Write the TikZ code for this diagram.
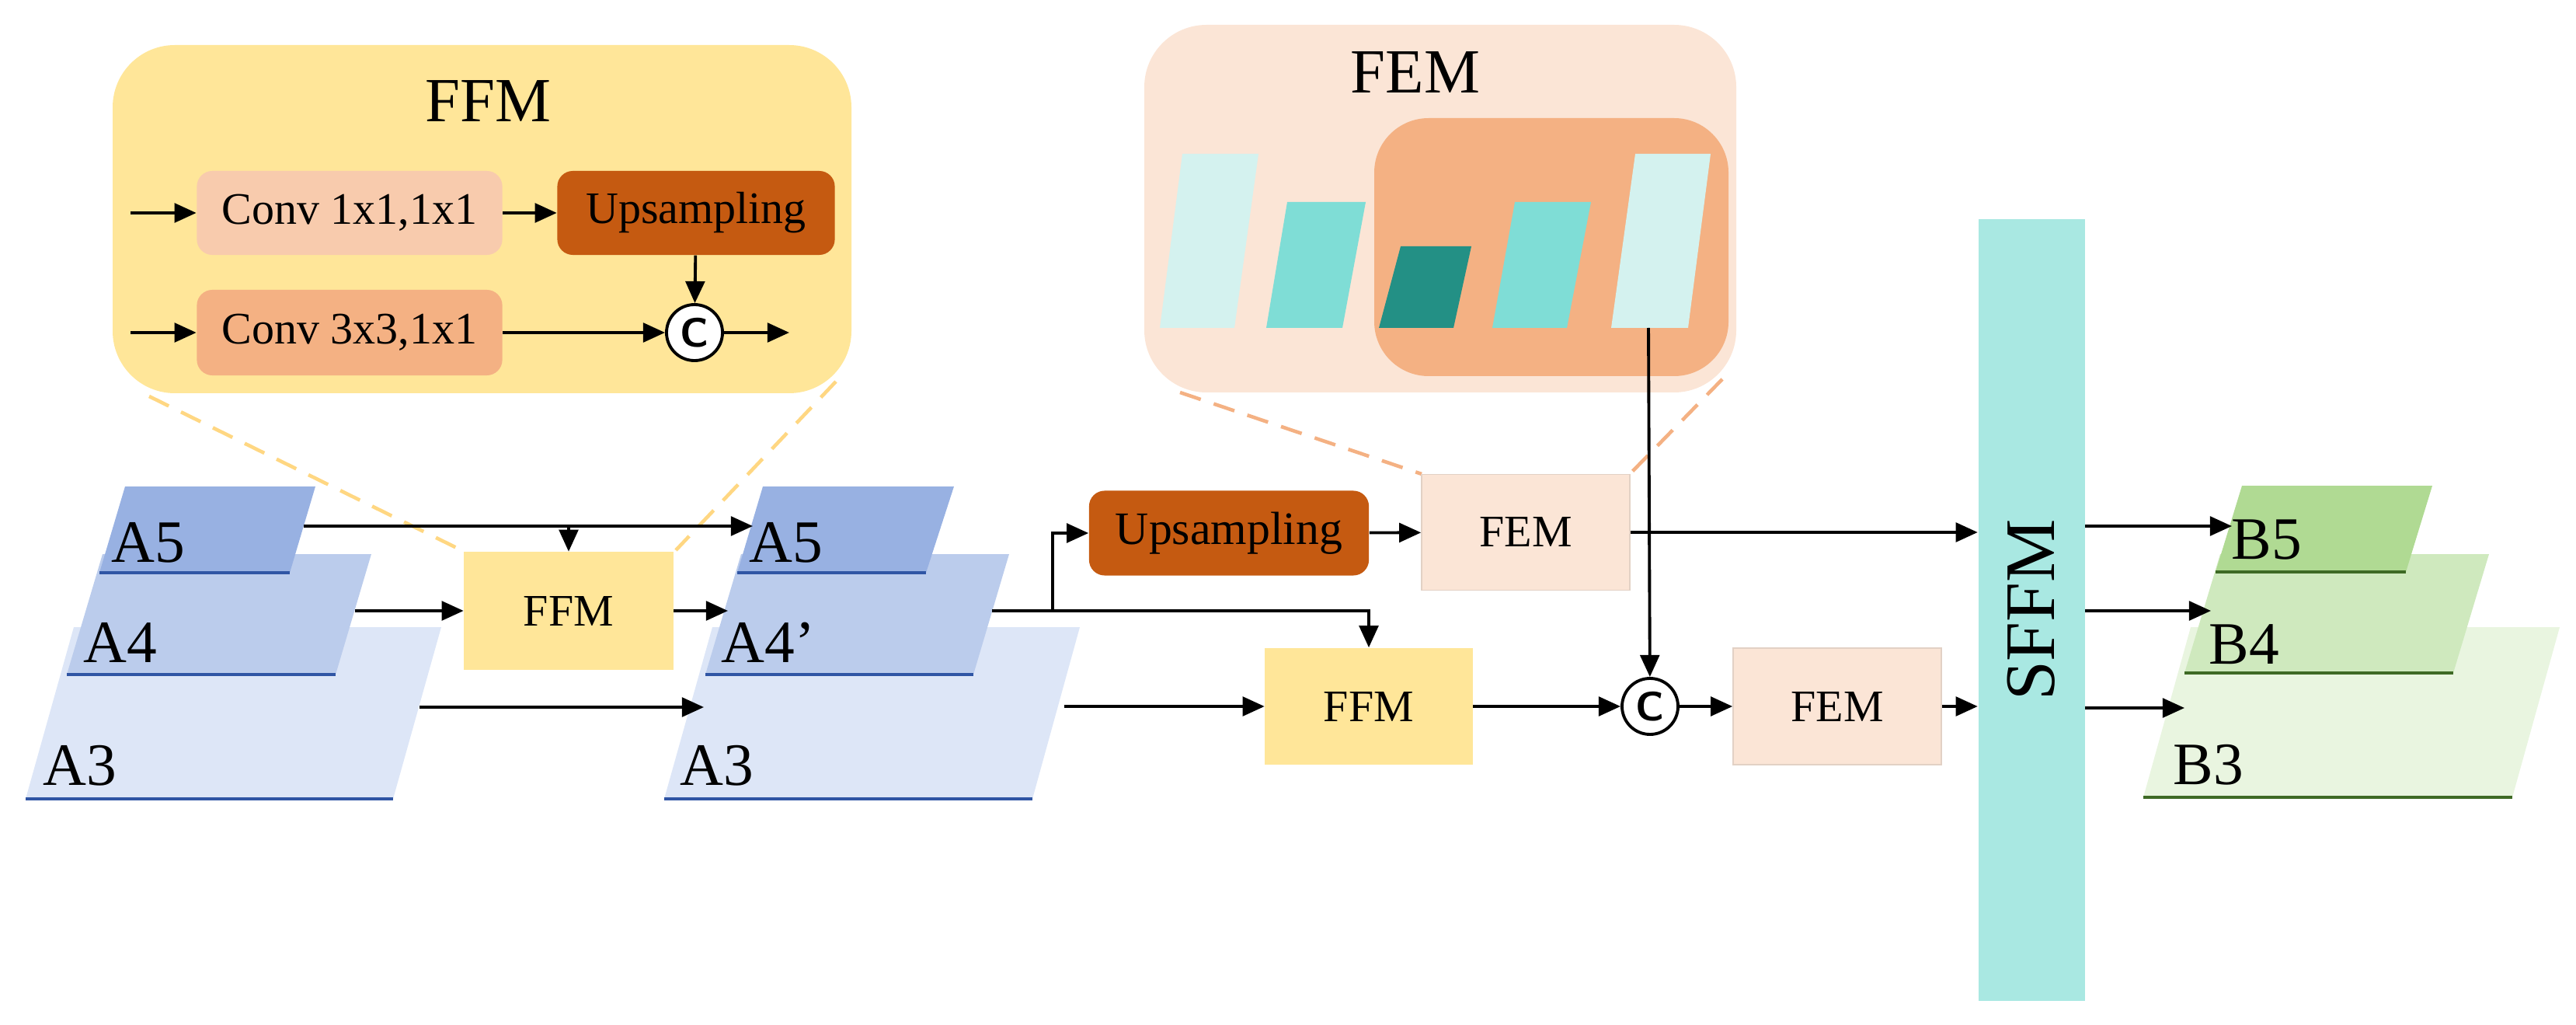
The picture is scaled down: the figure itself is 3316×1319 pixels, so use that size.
\documentclass[tikz,border=0pt]{standalone}
\usepackage{fontspec}
\setmainfont{Liberation Serif}
\usetikzlibrary{arrows.meta}
\definecolor{ffmY}{HTML}{FFE699}
\definecolor{femP}{HTML}{FBE5D6}
\definecolor{convA}{HTML}{F8CBAD}
\definecolor{convB}{HTML}{F4B183}
\definecolor{upO}{HTML}{C55A11}
\definecolor{aFive}{HTML}{98B1E2}
\definecolor{aFour}{HTML}{BBCCEC}
\definecolor{aThree}{HTML}{DDE6F7}
\definecolor{aEdge}{HTML}{2F55A4}
\definecolor{bFive}{HTML}{B0DA93}
\definecolor{bFour}{HTML}{CFE9BE}
\definecolor{bThree}{HTML}{E9F5E0}
\definecolor{bEdge}{HTML}{3E6A25}
\definecolor{barL}{HTML}{D4F2EF}
\definecolor{barM}{HTML}{7FDDD6}
\definecolor{barD}{HTML}{239085}
\definecolor{sffm}{HTML}{A9E8E2}
\begin{document}
\begin{tikzpicture}[x=0.01cm,y=-0.01cm,
  arr/.style={line width=1.1pt,-{Triangle[length=8pt,width=7pt]}},
  ln/.style={line width=1.1pt},
  box/.style={rectangle,inner sep=0pt,font=\fontsize{16.5}{18}\selectfont},
  lbl/.style={anchor=base west,inner sep=0pt,font=\fontsize{22}{24}\selectfont},
  cc/.style={circle,draw,line width=1.1pt,fill=white,minimum size=0.72cm,inner sep=0pt,font=\sffamily\bfseries\fontsize{15}{15}\selectfont},
  dsh/.style={line width=1.3pt,dash pattern=on 8pt off 5pt}]
\useasboundingbox (0,0) rectangle (3316,1319);
% ---------- FFM zoom panel
\fill[ffmY,rounded corners=0.8cm] (145,58) rectangle (1096,506);
\node[font=\fontsize{23}{24}\selectfont] (ffmT) at (628,130) {FFM};
\node[box,fill=convA,rounded corners=0.2cm,minimum width=3.93cm,minimum height=1.08cm] (c1) at (450,274) {Conv 1x1,1x1};
\node[box,fill=upO,rounded corners=0.2cm,minimum width=3.57cm,minimum height=1.08cm] (up1) at (896,274) {Upsampling};
\node[box,fill=convB,rounded corners=0.2cm,minimum width=3.93cm,minimum height=1.10cm] (c3) at (450,428) {Conv 3x3,1x1};
\node[cc] (cA) at (894,428) {C};
\coordinate (in1) at (168,274); \coordinate (in2) at (168,428); \coordinate (outA) at (1016,428);
\draw[arr] (in1) -- (c1);
\draw[arr] (in2) -- (c3);
\draw[arr] (c1) -- (up1);
\draw[arr] (up1) -- (cA);
\draw[arr] (c3) -- (cA);
\draw[arr] (cA) -- (outA);
% ---------- FEM zoom panel
\fill[femP,rounded corners=0.8cm] (1473,32) rectangle (2235,505);
\node[font=\fontsize{23}{24}\selectfont] (femT) at (1822,93) {FEM};
\fill[convB,rounded corners=0.7cm] (1769,152) rectangle (2225,484);
\fill[barL] (1493,422) -- (1589,422) -- (1620,198) -- (1522,198) -- cycle;
\fill[barM] (1630,422) -- (1728,422) -- (1758,260) -- (1657,260) -- cycle;
\fill[barD] (1775,422) -- (1871,422) -- (1894,317) -- (1803,317) -- cycle;
\fill[barM] (1921,422) -- (2017,422) -- (2048,260) -- (1950,260) -- cycle;
\fill[barL] (2074,422) -- (2173,422) -- (2202,198) -- (2105,198) -- cycle;
\coordinate (barOut) at (2122,422);
% ---------- dashed zoom lines
\draw[dsh,ffmY!85!orange] (192,510) -- (598,710);
\draw[dsh,ffmY!85!orange] (1076,491) -- (870,708);
\draw[dsh,convB] (1519,505) -- (1830,610);
\draw[dsh,convB] (2217,488) -- (2098,610);
% ---------- left feature maps
\fill[aThree] (33,1028) -- (506,1028) -- (568,807) -- (95,807) -- cycle;
\draw[aEdge,line width=1.4pt] (33,1028) -- (506,1028);
\fill[aFour] (86,868) -- (432,868) -- (478,713) -- (132,713) -- cycle;
\draw[aEdge,line width=1.4pt] (86,868) -- (432,868);
\fill[aFive] (128,737) -- (373,737) -- (406,626) -- (161,626) -- cycle;
\draw[aEdge,line width=1.4pt] (128,737) -- (373,737);
\node[lbl] (a5) at (143,723) {A5};
\node[lbl] (a4) at (107,852) {A4};
\node[lbl] (a3) at (55,1010) {A3};
% middle feature maps
\fill[aThree] (855,1028) -- (1329,1028) -- (1390,807) -- (917,807) -- cycle;
\draw[aEdge,line width=1.4pt] (855,1028) -- (1329,1028);
\fill[aFour] (908,868) -- (1253,868) -- (1299,713) -- (954,713) -- cycle;
\draw[aEdge,line width=1.4pt] (908,868) -- (1253,868);
\fill[aFive] (949,737) -- (1192,737) -- (1228,626) -- (982,626) -- cycle;
\draw[aEdge,line width=1.4pt] (949,737) -- (1192,737);
\node[lbl] (m5) at (964,723) {A5};
\node[lbl] (m4) at (928,852) {A4’};
\node[lbl] (m3) at (875,1010) {A3};
% right feature maps
\fill[bThree] (2759,1026) -- (3234,1026) -- (3295,807) -- (2820,807) -- cycle;
\draw[bEdge,line width=1.4pt] (2759,1026) -- (3234,1026);
\fill[bFour] (2812,866) -- (3158,866) -- (3204,713) -- (2858,713) -- cycle;
\draw[bEdge,line width=1.4pt] (2812,866) -- (3158,866);
\fill[bFive] (2852,736) -- (3097,736) -- (3131,625) -- (2886,625) -- cycle;
\draw[bEdge,line width=1.4pt] (2852,736) -- (3097,736);
\node[lbl] (b5) at (2872,719) {B5};
\node[lbl] (b4) at (2843,854) {B4};
\node[lbl] (b3) at (2797,1009) {B3};
% ---------- main nodes
\node[box,fill=ffmY,minimum width=2.69cm,minimum height=1.51cm] (ffm1) at (732,786) {FFM};
\node[box,fill=ffmY,minimum width=2.67cm,minimum height=1.50cm] (ffm2) at (1762,909) {FFM};
\node[box,fill=upO,rounded corners=0.2cm,minimum width=3.60cm,minimum height=1.09cm,font=\fontsize{17}{18}\selectfont] (up2) at (1582,686) {Upsampling};
\node[box,fill=femP,draw=femP!80!gray,minimum width=2.68cm,minimum height=1.49cm] (fem1) at (1964,685) {FEM};
\node[box,fill=femP,draw=femP!80!gray,minimum width=2.68cm,minimum height=1.50cm] (fem2) at (2365,909) {FEM};
\node[cc] (cB) at (2124,909) {C};
\node[box,fill=sffm,minimum width=1.37cm,minimum height=10.06cm] (sf) at (2615,785) {};
\node[rotate=90,font=\fontsize{26}{28}\selectfont] at (sf) {SFFM};
% ---------- connectors
\coordinate (a5o) at (391,677); \coordinate (m5i) at (969,677); \coordinate (dropA) at (732,677);
\draw[arr] (a5o) -- (m5i);
\draw[arr] (dropA) -- (ffm1.north);
\coordinate (a4o) at (457,786); \draw[arr] (a4o) -- (ffm1);
\coordinate (m4i) at (937,786); \draw[arr] (ffm1) -- (m4i);
\coordinate (a3o) at (540,910); \coordinate (m3i) at (906,910); \draw[arr] (a3o) -- (m3i);
\coordinate (m4o) at (1277,786); \coordinate (br) at (1355,786);
\draw[ln] (m4o) -- (br);
\draw[arr] (br) |- (up2.west);
\draw[arr] (br) -| (ffm2.north);
\coordinate (m3o) at (1370,909); \draw[arr] (m3o) -- (ffm2);
\draw[arr] (up2) -- (fem1);
\draw[arr] (fem1.east) -- (fem1.east -| sf.west);
\draw[arr] (ffm2) -- (cB);
\draw[arr] (barOut) -- (cB);
\draw[arr] (cB) -- (fem2);
\draw[arr] (fem2.east) -- (fem2.east -| sf.west);
\coordinate (b5i) at (2873,677); \coordinate (b4i) at (2846,786); \coordinate (b3i) at (2812,911);
\draw[arr] (sf.east |- b5i) -- (b5i);
\draw[arr] (sf.east |- b4i) -- (b4i);
\draw[arr] (sf.east |- b3i) -- (b3i);
\end{tikzpicture}
\end{document}
